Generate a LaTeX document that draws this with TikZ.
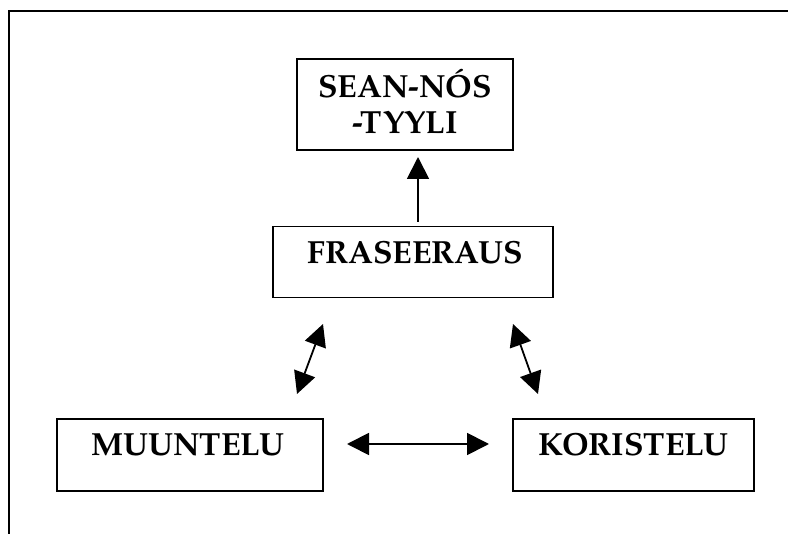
\documentclass[tikz,border=0pt]{standalone}
\usepackage{fontspec}
\setmainfont{TeX Gyre Pagella}
\usetikzlibrary{arrows.meta}
\begin{document}
\begin{tikzpicture}[x=1pt,y=-1pt,
  box/.style={draw, line width=1.5pt, inner sep=0pt, rectangle},
  lbl/.style={font=\fontsize{32}{36}\selectfont\bfseries, align=center, inner sep=0pt},
  arr/.style={line width=1.8pt, -{Triangle[length=22pt,width=22pt]}},
  darr/.style={line width=1.8pt, {Triangle[length=22pt,width=22pt]}-{Triangle[length=22pt,width=22pt]}}]
\useasboundingbox (0,0) rectangle (788,534);
\fill[white] (0,0) rectangle (788,534);
\draw[line width=2pt] (9,534) -- (9,11) -- (788,11);
% boxes
\node[box, minimum width=216pt, minimum height=91pt] (sean) at (405,104.5) {};
\node[lbl] (seant) at (405,101) {SEAN-NÓS\\-TYYLI};
\node[box, minimum width=280pt, minimum height=71pt] (fras) at (413,262) {};
\node[lbl] (frast) at (415,253) {FRASEERAUS};
\node[box, minimum width=266pt, minimum height=72pt] (muun) at (190,455) {};
\node[lbl] (muunt) at (188,445) {MUUNTELU};
\node[box, minimum width=241pt, minimum height=72pt] (kor) at (633.5,455) {};
\node[lbl] (kort) at (633.5,445) {KORISTELU};
% arrow ends
\coordinate (a1) at (418,222);
\coordinate (a2) at (418,157);
\coordinate (b1) at (323,324);
\coordinate (b2) at (297,394);
\coordinate (c1) at (513,324);
\coordinate (c2) at (538,394);
\coordinate (d1) at (347,444);
\coordinate (d2) at (489,444);
\draw[arr] (a1) -- (a2);
\draw[darr] (b1) -- (b2);
\draw[darr] (c1) -- (c2);
\draw[darr] (d1) -- (d2);
\end{tikzpicture}
\end{document}
